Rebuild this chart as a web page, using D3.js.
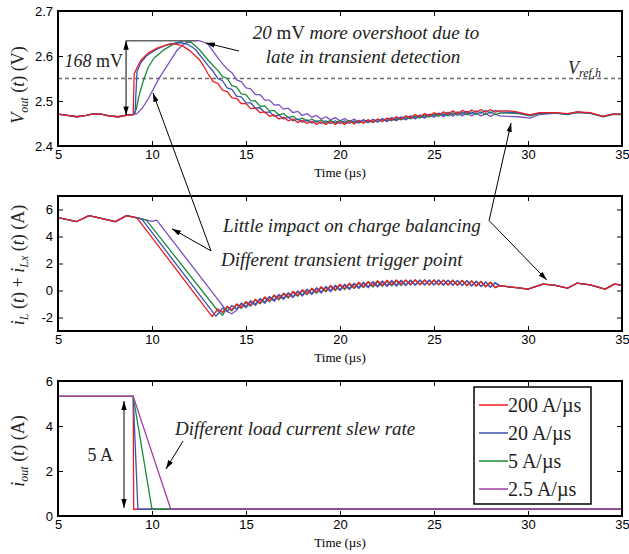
<!DOCTYPE html>
<html>
<head>
<meta charset="utf-8">
<script src="https://cdn.jsdelivr.net/npm/d3@7"></script>
<style>
  body { margin: 0; background: #fff; }
  svg { display: block; }
</style>
</head>
<body>
<script>
// ---------- data ----------
const seriesNames = ["200 A/\u00b5s", "20 A/\u00b5s", "5 A/\u00b5s", "2.5 A/\u00b5s"];
const xTicks = [5, 10, 15, 20, 25, 30, 35];
const vTicks = [2.4, 2.5, 2.6, 2.7];
const iLTicks = [-2, 0, 2, 4, 6];
const ioTicks = [0, 2, 4, 6];
const vRefH = 2.55;

// V_out(t): before the step, shared by all
const vPre = [[5,2.471],[5.5,2.468],[6,2.465],[6.5,2.468],[6.8,2.471],[7.3,2.471],[7.7,2.467],[8.2,2.465],[8.6,2.468],[9.0,2.470]];
const vRedHead = [[9.05,2.560],[9.2,2.574],[9.4,2.590],[9.8,2.607],[10.3,2.618],[10.9,2.626],[11.2,2.627],[11.6,2.623],[12.0,2.612],[12.5,2.593],[12.8,2.574]];
const vBlueHead = [[9.1,2.474],[9.2,2.565],[9.4,2.585],[9.7,2.600],[10.2,2.614],[10.8,2.625],[11.5,2.630],[11.9,2.626],[12.3,2.615],[12.7,2.594]];
const vGreenHead = [[9.15,2.480],[9.3,2.510],[9.5,2.540],[9.8,2.575],[10.1,2.595],[10.6,2.613],[11.2,2.628],[11.7,2.634],[12.1,2.630],[12.5,2.615],[12.8,2.600]];
const vPurpleHead = [[9.2,2.472],[9.5,2.485],[9.8,2.505],[10.05,2.525],[10.4,2.552],[10.8,2.578],[11.3,2.611],[11.7,2.627],[12.1,2.634],[12.5,2.634],[12.8,2.630]];
// ripple part, one value every 0.25 us from 13.0 us
const vRipStart = 13.0, ripStep = 0.25;
const vRedRip = [2.559,2.543,2.539,2.524,2.521,2.507,2.506,2.494,2.494,2.483,
  2.484,2.474,2.476,2.466,2.469,2.460,2.464,2.456,2.460,2.452,
  2.457,2.450,2.455,2.448,2.454,2.448,2.454,2.448,2.454,2.448,
  2.455,2.449,2.456,2.451,2.458,2.453,2.460,2.455,2.462,2.458,
  2.465,2.460,2.467,2.463,2.470,2.465,2.472,2.467,2.474,2.469,
  2.476,2.471,2.478,2.472,2.479,2.474,2.480,2.475,2.481,2.475,
  2.481,2.475,2.478];
const vBlueRip = [2.578,2.566,2.550,2.545,2.529,2.526,2.511,2.509,2.496,2.496,
  2.484,2.485,2.474,2.476,2.466,2.469,2.460,2.464,2.456,2.460,
  2.453,2.458,2.451,2.456,2.450,2.456,2.450,2.456,2.450,2.456,
  2.450,2.456,2.451,2.457,2.452,2.459,2.454,2.461,2.456,2.463,
  2.458,2.465,2.460,2.467,2.462,2.469,2.464,2.471,2.466,2.473,
  2.468,2.475,2.470,2.476,2.471,2.477,2.472,2.478,2.473,2.479,
  2.473,2.479,2.476];
const vGreenRip = [2.590,2.579,2.568,2.554,2.550,2.534,2.531,2.516,2.514,2.501,
  2.500,2.488,2.489,2.478,2.479,2.469,2.472,2.463,2.466,2.458,
  2.462,2.455,2.460,2.453,2.458,2.452,2.457,2.451,2.457,2.451,
  2.457,2.451,2.457,2.451,2.458,2.452,2.459,2.454,2.461,2.456,
  2.463,2.458,2.465,2.460,2.467,2.462,2.469,2.464,2.471,2.466,
  2.472,2.467,2.474,2.468,2.475,2.469,2.476,2.470,2.476,2.470,
  2.476,2.470,2.473];
const vPurpleRip = [2.625,2.611,2.596,2.583,2.571,2.563,2.547,2.543,2.529,2.527,
  2.514,2.514,2.502,2.502,2.491,2.492,2.482,2.484,2.474,2.477,
  2.468,2.472,2.464,2.468,2.460,2.465,2.458,2.463,2.456,2.461,
  2.454,2.460,2.453,2.459,2.453,2.459,2.453,2.460,2.454,2.461,
  2.456,2.463,2.458,2.465,2.460,2.467,2.462,2.469,2.464,2.471,
  2.465,2.472,2.466,2.473,2.467,2.473,2.467,2.473,2.467,2.472,
  2.466,2.471,2.467];
const vRedTail = [[28.5,2.478],[29.0,2.478],[29.4,2.476],[30.1,2.469],[30.6,2.474],[31.5,2.474],[32.1,2.472],[32.6,2.476],[33.3,2.474],[34.0,2.466],[34.5,2.471],[35,2.471]];
const vBlueTail = [[28.5,2.476],[29.0,2.475],[29.4,2.474],[30.1,2.468],[30.6,2.473],[31.5,2.473],[32.1,2.471],[32.6,2.475],[33.3,2.473],[34.0,2.466],[34.5,2.471],[35,2.471]];
const vGreenTail = [[28.5,2.473],[29.0,2.473],[29.5,2.472],[30.1,2.467],[30.6,2.472],[31.5,2.473],[32.1,2.470],[32.6,2.475],[33.3,2.473],[34.0,2.465],[34.5,2.470],[35,2.470]];
const vPurpleTail = [[28.5,2.467],[28.9,2.466],[29.5,2.465],[30.1,2.462],[30.6,2.470],[31.5,2.473],[32.1,2.471],[32.6,2.475],[33.3,2.473],[34.0,2.466],[34.5,2.471],[35,2.471]];

// i_L(t) + i_Lx(t)
const iPre = [[5,5.40],[6.0,5.11],[6.65,5.55],[8.05,5.10],[8.65,5.55],[9.2,5.38]];
const iRedHead = [[13.2,-1.93]];
const iBlueHead = [[9.45,5.30],[13.4,-1.90]];
const iGreenHead = [[9.45,5.30],[9.7,5.22]];
const iPurpleHead = [[9.45,5.30],[10.0,5.12],[10.25,5.22]];
const iRipStart = 13.5;
const iRedRip = [-1.37,-1.63,-1.17,-1.44,-0.99,-1.26,-0.81,-1.09,-0.64,-0.92,
  -0.48,-0.77,-0.33,-0.62,-0.19,-0.49,-0.06,-0.36,0.06,-0.24,
  0.17,-0.13,0.28,-0.03,0.38,0.06,0.46,0.14,0.54,0.21,
  0.61,0.28,0.67,0.33,0.72,0.38,0.76,0.41,0.79,0.44,
  0.79,0.44,0.80,0.44,0.78,0.42,0.78,0.42,0.77,0.41,
  0.76,0.39,0.74,0.37,0.71,0.33,0.67,0.28,0.61,0.22,
  0.36];
const iBlueRip = [-1.76,-1.30,-1.56,-1.11,-1.38,-0.93,-1.20,-0.76,-1.03,-0.59,
  -0.87,-0.44,-0.72,-0.29,-0.58,-0.16,-0.45,-0.03,-0.33,0.09,
  -0.22,0.20,-0.11,0.30,-0.01,0.39,0.07,0.47,0.15,0.54,
  0.22,0.61,0.28,0.66,0.33,0.71,0.37,0.74,0.40,0.77,
  0.41,0.78,0.42,0.78,0.42,0.78,0.42,0.78,0.41,0.77,
  0.40,0.75,0.38,0.73,0.35,0.69,0.31,0.64,0.25,0.58,
  0.36];
const iGreenRip = [-1.50,-1.84,-1.24,-1.51,-1.06,-1.33,-0.88,-1.16,-0.71,-0.99,
  -0.55,-0.84,-0.40,-0.69,-0.26,-0.56,-0.13,-0.43,-0.01,-0.31,
  0.10,-0.20,0.21,-0.10,0.31,-0.01,0.39,0.07,0.47,0.14,
  0.54,0.21,0.60,0.26,0.65,0.31,0.69,0.34,0.72,0.37,
  0.75,0.40,0.77,0.42,0.78,0.42,0.78,0.42,0.77,0.41,
  0.76,0.39,0.74,0.37,0.71,0.33,0.67,0.28,0.61,0.22,
  0.36];
const iPurpleRip = [-0.66,-1.11,-1.56,-1.72,-1.46,-1.01,-1.28,-0.84,-1.11,-0.67,
  -0.95,-0.52,-0.80,-0.37,-0.66,-0.24,-0.53,-0.11,-0.41,0.01,
  -0.30,0.12,-0.19,0.22,-0.09,0.31,-0.01,0.39,0.07,0.46,
  0.14,0.53,0.20,0.58,0.25,0.63,0.29,0.66,0.32,0.69,
  0.36,0.73,0.39,0.75,0.40,0.76,0.40,0.76,0.39,0.75,
  0.38,0.73,0.36,0.71,0.33,0.67,0.29,0.62,0.23,0.56,
  0.34];
const iTail = [[28.5,0.36],[29.0,0.27],[29.5,0.19],[30.0,0.10],[30.8,0.47],[31.4,0.40],[32.1,0.17],[32.6,0.54],[33.3,0.42],[34.1,0.10],[34.6,0.47],[35,0.40]];

// i_out(t): 5 A load step with different slew rates
const ioPre = [[5,5.32],[9.0,5.32]];
const ioDropEnd = [9.025, 9.25, 10.0, 11.0];
const ioLow = 0.30;

// ---------- layout ----------
const W = 629, H = 554;
const X0 = 58, X1 = 622;
const panels = [{top: 11, bottom: 146}, {top: 196, bottom: 331}, {top: 381, bottom: 516}];
const lineColors = ["#ee1d23", "#3953b0", "#1b8a3e", "#7b50c2"];
const loadColors = ["#ee1d23", "#3953b0", "#1b8a3e", "#a23fa6"];
const SERIF = "'Liberation Serif','Times New Roman',serif";
const SANS = "'Liberation Sans',Arial,sans-serif";

const svg = d3.select("body").append("svg").attr("width", W).attr("height", H)
  .style("font-family", SANS);

const defs = svg.append("defs");
defs.append("marker").attr("id", "head")
  .attr("viewBox", "0 0 10 6").attr("refX", 10).attr("refY", 3)
  .attr("markerWidth", 9).attr("markerHeight", 6)
  .attr("markerUnits", "userSpaceOnUse").attr("orient", "auto-start-reverse")
  .append("path").attr("d", "M0,0L10,3L0,6Z").attr("fill", "#000");

const x = d3.scaleLinear().domain([5, 35]).range([X0, X1]);

function grid(start, vals) {
  return vals.map((v, k) => [start + k * ripStep, v]);
}

function makePanel(idx, domain, ticks, fmt) {
  const p = panels[idx];
  const y = d3.scaleLinear().domain(domain).range([p.bottom, p.top]);
  const g = svg.append("g");
  defs.append("clipPath").attr("id", "clip" + idx).append("rect")
    .attr("x", X0).attr("y", p.top).attr("width", X1 - X0).attr("height", p.bottom - p.top);

  const axB = g.append("g").attr("transform", `translate(0,${p.bottom})`)
    .call(d3.axisBottom(x).tickValues(xTicks).tickSize(-5).tickPadding(4).tickFormat(d3.format("d")));
  const axT = g.append("g").attr("transform", `translate(0,${p.top})`)
    .call(d3.axisTop(x).tickValues(xTicks).tickSize(-5).tickFormat(""));
  const axL = g.append("g").attr("transform", `translate(${X0},0)`)
    .call(d3.axisLeft(y).tickValues(ticks).tickSize(-5).tickPadding(5).tickFormat(fmt));
  const axR = g.append("g").attr("transform", `translate(${X1},0)`)
    .call(d3.axisRight(y).tickValues(ticks).tickSize(-5).tickFormat(""));
  [axB, axT, axL, axR].forEach(a => {
    a.select(".domain").remove();
    a.selectAll("line").attr("stroke", "#000").attr("stroke-width", 1);
    a.selectAll("text").attr("fill", "#000").style("font-size", "13px").style("font-family", SANS);
  });
  g.append("text").attr("x", (X0 + X1) / 2).attr("y", p.bottom + 31)
    .attr("text-anchor", "middle").style("font-family", SERIF).style("font-size", "13px")
    .text("Time (\u00b5s)");

  const plot = svg.append("g").attr("clip-path", `url(#clip${idx})`);
  return {y, g, plot, p};
}

function frame(panel) {
  svg.append("rect").attr("x", X0).attr("y", panel.p.top)
    .attr("width", X1 - X0).attr("height", panel.p.bottom - panel.p.top)
    .attr("fill", "none").attr("stroke", "#000").attr("stroke-width", 2);
}

function yLabel(cx, cy, parts) {
  const t = svg.append("text").attr("transform", `translate(${cx},${cy}) rotate(-90)`)
    .attr("text-anchor", "middle").style("font-family", SERIF).style("font-size", "18px")
    .attr("fill", "#222");
  parts.forEach(([s, style]) => {
    const ts = t.append("tspan").text(s);
    if (style === "i") ts.style("font-style", "italic");
    if (style === "sub") ts.style("font-style", "italic").style("font-size", "12px").attr("dy", 4);
    if (style === "up") ts.attr("dy", -4);
  });
}

// ---------- top panel: V_out ----------
const topP = makePanel(0, [2.4, 2.7], vTicks, d3.format(".1f"));
topP.plot.append("line").attr("x1", X0).attr("x2", X1)
  .attr("y1", topP.y(vRefH)).attr("y2", topP.y(vRefH))
  .attr("stroke", "#6d6d6d").attr("stroke-width", 1.6).attr("stroke-dasharray", "4,3");

const vSeries = [
  vPre.concat(vRedHead, grid(vRipStart, vRedRip), vRedTail),
  vPre.concat(vBlueHead, grid(vRipStart, vBlueRip), vBlueTail),
  vPre.concat(vGreenHead, grid(vRipStart, vGreenRip), vGreenTail),
  vPre.concat(vPurpleHead, grid(vRipStart, vPurpleRip), vPurpleTail)
];
const lineTop = d3.line().x(d => x(d[0])).y(d => topP.y(d[1]));
[3, 2, 1, 0].forEach(i => {
  topP.plot.append("path").datum(vSeries[i]).attr("d", lineTop)
    .attr("fill", "none").attr("stroke", lineColors[i]).attr("stroke-width", 1.3)
    .attr("stroke-linejoin", "round");
});
frame(topP);
yLabel(24, 85, [["V", "i"], ["out", "sub"], [" (", "up"], ["t", "i"], [") (V)", ""]]);

// ---------- middle panel: i_L + i_Lx ----------
const midP = makePanel(1, [-3, 7], iLTicks, d => String(d));
const iSeries = [
  iPre.concat(iRedHead, grid(iRipStart, iRedRip), iTail),
  iPre.concat(iBlueHead, grid(iRipStart, iBlueRip), iTail),
  iPre.concat(iGreenHead, grid(iRipStart, iGreenRip), iTail),
  iPre.concat(iPurpleHead, grid(iRipStart, iPurpleRip), iTail)
];
const lineMid = d3.line().x(d => x(d[0])).y(d => midP.y(d[1]));
[3, 2, 1, 0].forEach(i => {
  midP.plot.append("path").datum(iSeries[i]).attr("d", lineMid)
    .attr("fill", "none").attr("stroke", lineColors[i]).attr("stroke-width", 1.3)
    .attr("stroke-linejoin", "round");
});
frame(midP);
yLabel(24, 265, [["i", "i"], ["L", "sub"], [" (", "up"], ["t", "i"], [") + ", ""], ["i", "i"], ["Lx", "sub"], [" (", "up"], ["t", "i"], [") (A)", ""]]);

// ---------- bottom panel: i_out ----------
const botP = makePanel(2, [0, 6], ioTicks, d => String(d));
const lineBot = d3.line().x(d => x(d[0])).y(d => botP.y(d[1]));
[0, 1, 2, 3].forEach(i => {
  const pts = ioPre.concat([[ioDropEnd[i], ioLow], [35, ioLow]]);
  botP.plot.append("path").datum(pts).attr("d", lineBot)
    .attr("fill", "none").attr("stroke", loadColors[i]).attr("stroke-width", 1.3);
});
frame(botP);
yLabel(24, 451, [["i", "i"], ["out", "sub"], [" (", "up"], ["t", "i"], [") (A)", ""]]);

// ---------- annotations ----------
const ann = svg.append("g").attr("fill", "#222").style("font-family", SERIF).style("font-size", "19px");

function arrow(x1, y1, x2, y2, both) {
  const l = svg.append("line").attr("x1", x1).attr("y1", y1).attr("x2", x2).attr("y2", y2)
    .attr("stroke", "#000").attr("stroke-width", 1).attr("marker-end", "url(#head)");
  if (both) l.attr("marker-start", "url(#head)");
}
function richText(px, py, anchor, parts) {
  const t = ann.append("text").attr("x", px).attr("y", py).attr("text-anchor", anchor);
  parts.forEach(([s, it]) => t.append("tspan").text(s).style("font-style", it ? "italic" : "normal"));
  return t;
}

// 168 mV overshoot
svg.append("line").attr("x1", x(8.62)).attr("x2", x(12.4))
  .attr("y1", topP.y(2.634)).attr("y2", topP.y(2.634))
  .attr("stroke", "#666").attr("stroke-width", 1.6);
arrow(x(8.62), topP.y(2.6), x(8.62), topP.y(2.634));
arrow(x(8.62), topP.y(2.6), x(8.62), topP.y(2.468));
richText(123, 67, "end", [["168", true], [" mV", false]]).style("font-size", "18px");

richText(366, 39, "middle", [["20", true], [" mV ", false], ["more overshoot due to", true]]);
richText(363, 63, "middle", [["late in transient detection", true]]);
arrow(x(14.63), topP.y(2.611), x(12.87), topP.y(2.629));

// V_ref,h
const vr = ann.append("text").attr("x", 568).attr("y", topP.y(vRefH) - 5).style("font-size", "18px");
vr.append("tspan").text("V").style("font-style", "italic");
vr.append("tspan").text("ref,h").style("font-style", "italic").style("font-size", "12px").attr("dy", 3);

// middle panel notes
richText(223, 232, "start", [["Little impact on charge balancing", true]]);
richText(221, 266, "start", [["Different transient trigger point", true]]);
arrow(x(13.14), midP.y(2.93), x(10.05), topP.y(2.518));
arrow(x(13.14), midP.y(2.93), x(11.06), midP.y(4.58));
arrow(x(27.93), midP.y(5.18), x(29.1), topP.y(2.451));
arrow(x(27.93), midP.y(5.18), x(31.0), midP.y(0.77));

// bottom notes
richText(175, 435, "start", [["Different load current slew rate", true]]);
arrow(x(11.65), botP.y(3.33), x(10.74), botP.y(2.09));
arrow(x(8.51), botP.y(2.6), x(8.51), botP.y(5.11));
arrow(x(8.51), botP.y(2.6), x(8.51), botP.y(0.36));
richText(113, 461, "end", [["5 A", false]]).style("font-size", "18px");

// legend
const lg = svg.append("g").attr("transform", "translate(474,387)");
lg.append("rect").attr("width", 117).attr("height", 117)
  .attr("fill", "#fff").attr("stroke", "#000").attr("stroke-width", 1.5);
seriesNames.forEach((name, i) => {
  const ly = 18 + i * 28;
  lg.append("line").attr("x1", 5).attr("x2", 34).attr("y1", ly).attr("y2", ly)
    .attr("stroke", loadColors[i]).attr("stroke-width", 1.5);
  lg.append("text").attr("x", 34).attr("y", ly + 7)
    .style("font-family", SERIF).style("font-size", "20px").attr("fill", "#222").text(name);
});
</script>
</body>
</html>
